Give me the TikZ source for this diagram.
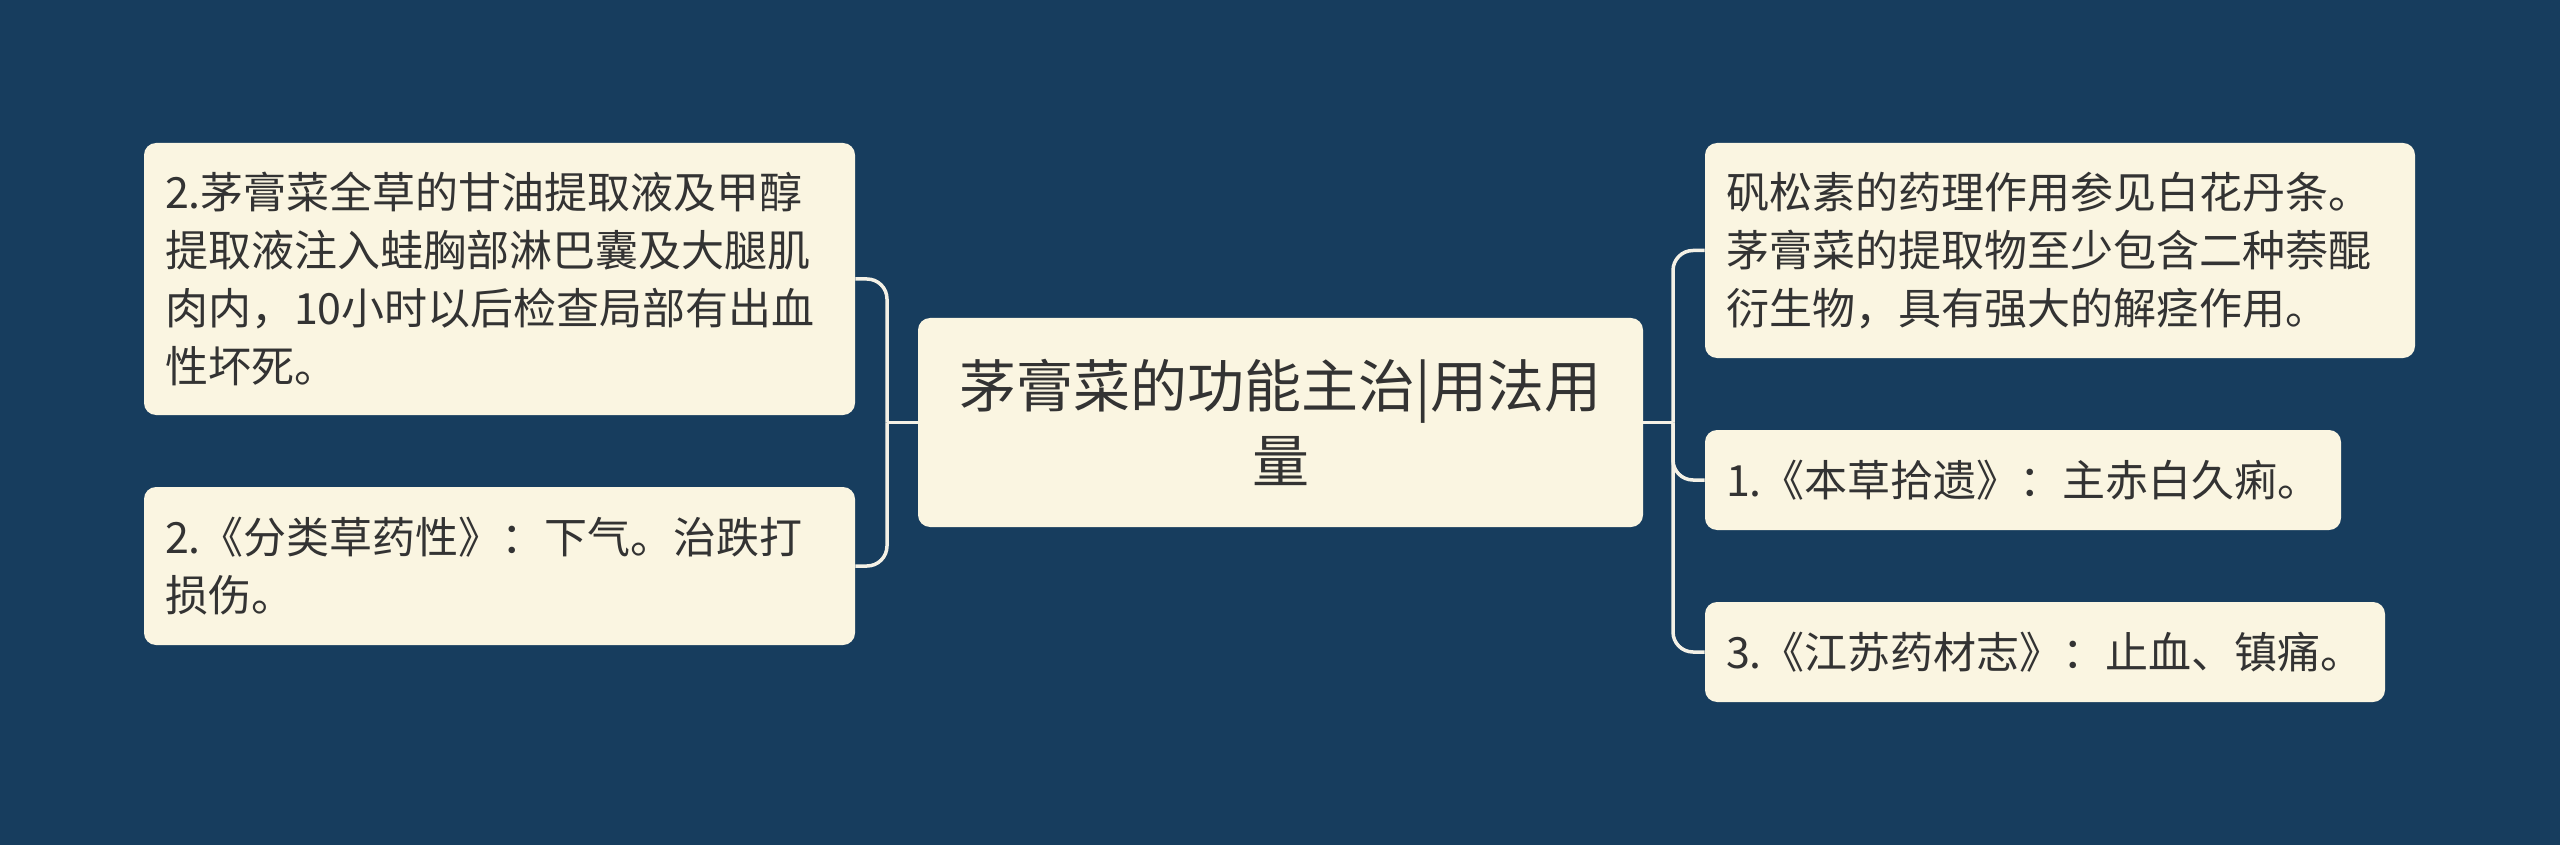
\documentclass[tikz,border=0pt]{standalone}
\usepackage{fontspec}
\setmainfont{Noto Sans CJK SC}
\definecolor{bgblue}{HTML}{173D5E}
\definecolor{boxfill}{HTML}{FAF5E1}
\definecolor{txtgray}{HTML}{333333}
\definecolor{linecol}{HTML}{F4F1E6}

\begin{document}
\begin{tikzpicture}[x=0.5pt,y=-0.5pt,
    topic/.style={fill=boxfill,rounded corners=6pt,text=txtgray,inner xsep=10.5pt,inner ysep=0pt,
      align=left,font=\fontsize{21.5}{29}\selectfont},
    maintopic/.style={topic,align=center,font=\fontsize{28.5}{37.5}\selectfont},
    link/.style={linecol,line width=1.75pt},
    elbow/.style={link,rounded corners=10pt}]
            \fill[bgblue] (0,0) rectangle (2560,845);
            \useasboundingbox (0,0) rectangle (2560,845);
            \node[maintopic,text width=341.5pt,minimum height=104.5pt] (main) at (1280.5,422.5) {茅膏菜的功能主治|用法用\\量};
            \node[topic,text width=334.5pt,minimum height=136pt] (toxic) at (499.5,279) {2.茅膏菜全草的甘油提取液及甲醇\\提取液注入蛙胸部淋巴囊及大腿肌\\肉内，10小时以后检查局部有出血\\性坏死。};
            \node[topic,text width=334.5pt,minimum height=79pt] (fenlei) at (499.5,566) {2.《分类草药性》：下气。治跌打\\损伤。};
            \node[topic,text width=334pt,minimum height=107.5pt] (pharma) at (2060,250.5) {矾松素的药理作用参见白花丹条。\\茅膏菜的提取物至少包含二种萘醌\\衍生物，具有强大的解痉作用。};
            \node[topic,text width=297pt,minimum height=50pt] (shiyi) at (2023,480) {1.《本草拾遗》：主赤白久痢。};
            \node[topic,text width=319pt,minimum height=50pt] (jiangsu) at (2045,652) {3.《江苏药材志》：止血、镇痛。};
            \coordinate (jleft) at (887,422.5);
            \coordinate (jright) at (1673,422.5);
            \draw[link] (main.west) -- (jleft);
            \draw[link] (main.east) -- (jright);
            \draw[elbow] (jleft) |- (toxic.east);
            \draw[elbow] (jleft) |- (fenlei.east);
            \draw[elbow] (jright) |- (pharma.west);
            \draw[elbow] (jright) |- (shiyi.west);
            \draw[elbow] (jright) |- (jiangsu.west);
        \end{tikzpicture}
\end{document}
